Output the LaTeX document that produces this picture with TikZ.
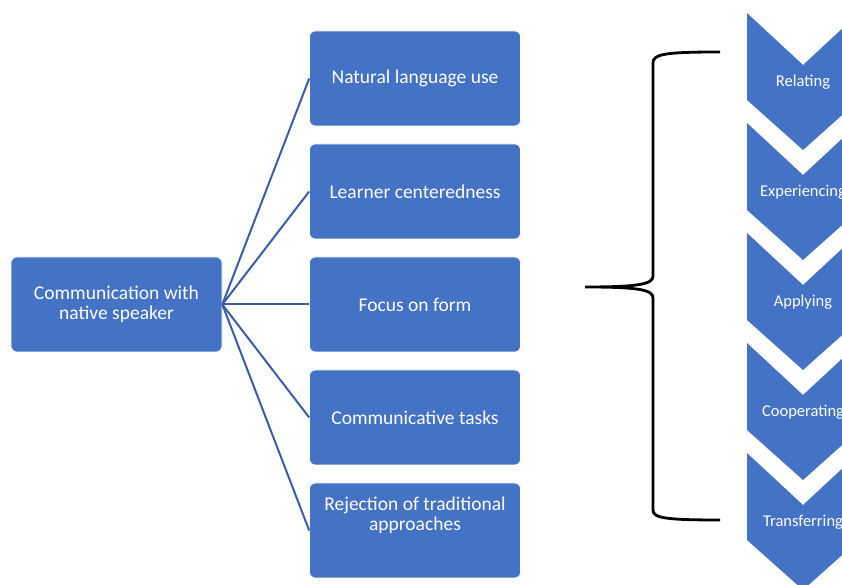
\documentclass[tikz,border=0pt]{standalone}
\usepackage{fontspec}
\setmainfont{Carlito}
\usetikzlibrary{positioning}
\definecolor{boxblue}{HTML}{4472C4}
\definecolor{lineblue}{HTML}{3A5EA6}
\tikzstyle{link} = [lineblue, line width=2pt]
\tikzstyle{brace} = [black, line width=2.8pt]

\begin{document}
\begin{tikzpicture}[x=1pt, y=1pt, node distance={113pt},
  main/.style = {fill=boxblue, draw=white, line width=0.6pt, rounded corners=6pt,
    minimum width=211pt, minimum height=95pt, text=white, align=center,
    font=\fontsize{19.5}{20}\selectfont},
  chev/.style = {fill=boxblue},
  chevtext/.style = {text=white, font=\fontsize{16.5}{18}\selectfont}]
\useasboundingbox (0,0) rectangle (842,585);

\node[main] (nat) at (415,506.5) {Natural language use};
\node[main] (lrn) [below of=nat] {Learner centeredness};
\node[main] (foc) [below of=lrn] {Focus on form};
\node[main] (com) [below of=foc] {Communicative tasks};
\node[main] (rej) [below of=com] {};
\node[text=white, align=center, font=\fontsize{19.5}{20}\selectfont] (rejtxt)
  at ([yshift=15.5pt]rej.center) {Rejection of traditional\\approaches};
\node[main] (cws) at (116.5,280.5) {Communication with\\native speaker};

\draw[link] (cws.east) -- (nat.west);
\draw[link] (cws.east) -- (lrn.west);
\draw[link] (cws.east) -- (foc.west);
\draw[link] (cws.east) -- (com.west);
\draw[link] (cws.east) -- (rej.west);

% brace
\coordinate (brtop) at (720,533);
\coordinate (brtip) at (585,298);
\coordinate (brbot) at (720,65);
\draw[brace] (brtop) .. controls (665,533) and (653,531) .. (653,522)
  -- (653,309) .. controls (653,301) and (640,298) .. (brtip)
  .. controls (640,298) and (653,295) .. (653,287)
  -- (653,75) .. controls (653,67) and (665,65) .. (brbot);

% chevrons
\foreach \lbl [count=\i from 0] in {Relating, Experiencing, Applying, Cooperating, Transferring} {
  \fill[chev] (747,572-110*\i) -- (803,520-110*\i) -- (859,572-110*\i)
    -- (859,485-110*\i) -- (803,435-110*\i) -- (747,485-110*\i) -- cycle;
  \node[chevtext] (c\i) at (803,502.5-110*\i) {\lbl};
}
\end{tikzpicture}
\end{document}
